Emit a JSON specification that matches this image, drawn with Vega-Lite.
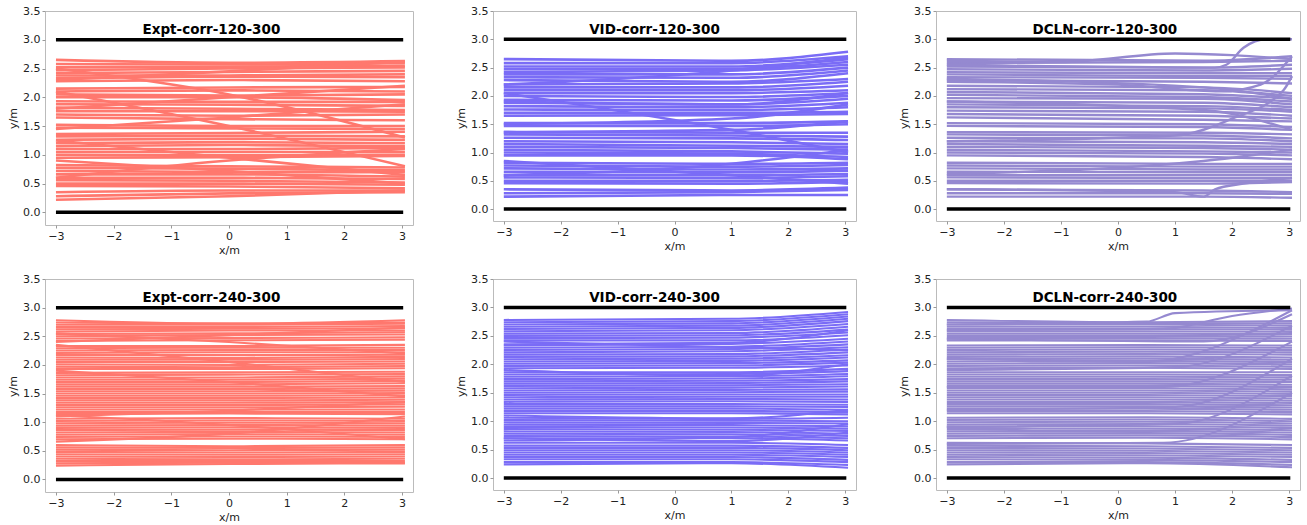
{
"$schema":"https://vega.github.io/schema/vega-lite/v6.json",
"background":"white",
"padding":{"left":6,"top":4,"right":2,"bottom":2},
"config":{
"view":{"stroke":"#bbbbbb","strokeWidth":1},
"axis":{"grid":false,"domain":false,"tickSize":3,"tickColor":"#999999","labelFont":"DejaVu Sans","labelFontSize":11,"labelColor":"#222222","labelPadding":2,"titleFont":"DejaVu Sans","titleFontSize":11,"titleFontWeight":"normal","titleColor":"#222222","titlePadding":3,"labelFlush":false,"labelOverlap":false},
"axisY":{"titleX":-32,"titleBaseline":"middle","titleY":107},
"line":{"interpolate":"monotone","clip":true}
},
"datasets":{
"w":[{"x":-3,"x2":3.02,"y":0},{"x":-3,"x2":3.02,"y":3}],
"e1":[
{"i":1,"x":-3,"y":2.65},{"i":1,"x":0,"y":2.6},{"i":1,"x":3.05,"y":2.63},
{"i":2,"x":-3,"y":2.58},{"i":2,"x":0,"y":2.57},{"i":2,"x":3.05,"y":2.6},
{"i":3,"x":-3,"y":2.52},{"i":3,"x":0,"y":2.53},{"i":3,"x":3.05,"y":2.55},
{"i":4,"x":-3,"y":2.47},{"i":4,"x":0,"y":2.5},{"i":4,"x":3.05,"y":2.52},
{"i":5,"x":-3,"y":2.42},{"i":5,"x":0,"y":2.44},{"i":5,"x":3.05,"y":2.46},
{"i":6,"x":-3,"y":2.38},{"i":6,"x":0,"y":2.38},{"i":6,"x":3.05,"y":2.4},
{"i":7,"x":-3,"y":2.33},{"i":7,"x":0,"y":2.36},{"i":7,"x":3.05,"y":2.35},
{"i":8,"x":-3,"y":2.28},{"i":8,"x":0,"y":2.3},{"i":8,"x":3.05,"y":2.28},
{"i":9,"x":-3,"y":2.5},{"i":9,"x":0,"y":2.05},{"i":9,"x":3.05,"y":1.3},
{"i":10,"x":-3,"y":2.15},{"i":10,"x":0,"y":2.17},{"i":10,"x":3.05,"y":2.18},
{"i":11,"x":-3,"y":2.1},{"i":11,"x":0,"y":2.12},{"i":11,"x":3.05,"y":2.1},
{"i":12,"x":-3,"y":2.05},{"i":12,"x":0,"y":2.03},{"i":12,"x":3.05,"y":2.05},
{"i":13,"x":-3,"y":2.0},{"i":13,"x":0,"y":2.0},{"i":13,"x":3.05,"y":1.95},
{"i":14,"x":-3,"y":1.93},{"i":14,"x":0,"y":1.92},{"i":14,"x":3.05,"y":1.92},
{"i":15,"x":-3,"y":1.88},{"i":15,"x":0,"y":1.87},{"i":15,"x":3.05,"y":1.85},
{"i":16,"x":-3,"y":1.82},{"i":16,"x":0,"y":1.8},{"i":16,"x":3.05,"y":1.78},
{"i":17,"x":-3,"y":1.76},{"i":17,"x":0,"y":1.76},{"i":17,"x":3.05,"y":1.75},
{"i":18,"x":-3,"y":1.7},{"i":18,"x":0,"y":1.68},{"i":18,"x":3.05,"y":1.7},
{"i":19,"x":-3,"y":1.65},{"i":19,"x":0,"y":1.62},{"i":19,"x":3.05,"y":1.6},
{"i":20,"x":-3,"y":2.1},{"i":20,"x":0,"y":1.5},{"i":20,"x":3.05,"y":0.8},
{"i":21,"x":-3,"y":1.52},{"i":21,"x":0,"y":1.5},{"i":21,"x":3.05,"y":1.5},
{"i":22,"x":-3,"y":1.47},{"i":22,"x":0,"y":1.46},{"i":22,"x":3.05,"y":1.45},
{"i":23,"x":-3,"y":1.36},{"i":23,"x":0,"y":1.38},{"i":23,"x":3.05,"y":1.4},
{"i":24,"x":-3,"y":1.32},{"i":24,"x":0,"y":1.33},{"i":24,"x":3.05,"y":1.32},
{"i":25,"x":-3,"y":1.26},{"i":25,"x":0,"y":1.28},{"i":25,"x":3.05,"y":1.26},
{"i":26,"x":-3,"y":1.2},{"i":26,"x":0,"y":1.22},{"i":26,"x":3.05,"y":1.2},
{"i":27,"x":-3,"y":1.15},{"i":27,"x":0,"y":1.17},{"i":27,"x":3.05,"y":1.15},
{"i":28,"x":-3,"y":1.1},{"i":28,"x":0,"y":1.1},{"i":28,"x":3.05,"y":1.12},
{"i":29,"x":-3,"y":1.05},{"i":29,"x":0,"y":1.05},{"i":29,"x":3.05,"y":1.05},
{"i":30,"x":-3,"y":1.0},{"i":30,"x":0,"y":0.99},{"i":30,"x":3.05,"y":1.0},
{"i":31,"x":-3,"y":0.95},{"i":31,"x":0,"y":0.96},{"i":31,"x":3.05,"y":0.98},
{"i":32,"x":-3,"y":1.25},{"i":32,"x":0,"y":0.95},{"i":32,"x":3.05,"y":0.65},
{"i":33,"x":-3,"y":0.82},{"i":33,"x":0,"y":0.8},{"i":33,"x":3.05,"y":0.78},
{"i":34,"x":-3,"y":0.77},{"i":34,"x":0,"y":0.76},{"i":34,"x":3.05,"y":0.73},
{"i":35,"x":-3,"y":0.72},{"i":35,"x":0,"y":0.7},{"i":35,"x":3.05,"y":0.7},
{"i":36,"x":-3,"y":0.66},{"i":36,"x":0,"y":0.66},{"i":36,"x":3.05,"y":0.62},
{"i":37,"x":-3,"y":0.6},{"i":37,"x":0,"y":0.6},{"i":37,"x":3.05,"y":0.58},
{"i":38,"x":-3,"y":0.56},{"i":38,"x":0,"y":0.55},{"i":38,"x":3.05,"y":0.52},
{"i":39,"x":-3,"y":0.5},{"i":39,"x":0,"y":0.5},{"i":39,"x":3.05,"y":0.48},
{"i":40,"x":-3,"y":0.46},{"i":40,"x":0,"y":0.45},{"i":40,"x":3.05,"y":0.42},
{"i":41,"x":-3,"y":0.35},{"i":41,"x":0,"y":0.38},{"i":41,"x":3.05,"y":0.38},
{"i":42,"x":-3,"y":0.28},{"i":42,"x":0,"y":0.33},{"i":42,"x":3.05,"y":0.35},
{"i":43,"x":-3,"y":0.22},{"i":43,"x":0,"y":0.28},{"i":43,"x":3.05,"y":0.38},
{"i":44,"x":-3,"y":1.8},{"i":44,"x":0,"y":2.0},{"i":44,"x":3.05,"y":2.2},
{"i":45,"x":-3,"y":0.6},{"i":45,"x":0,"y":0.9},{"i":45,"x":3.05,"y":1.1},
{"i":46,"x":-3,"y":2.3},{"i":46,"x":0,"y":2.45},{"i":46,"x":3.05,"y":2.62},
{"i":47,"x":-3,"y":1.45},{"i":47,"x":0,"y":1.65},{"i":47,"x":3.05,"y":1.88},
{"i":48,"x":-3,"y":0.9},{"i":48,"x":0,"y":0.72},{"i":48,"x":3.05,"y":0.5}
],
"v1":[
{"i":1,"x":-3,"y":2.65},{"i":1,"x":1,"y":2.62},{"i":1,"x":3.05,"y":2.78},
{"i":2,"x":-3,"y":2.58},{"i":2,"x":1,"y":2.58},{"i":2,"x":3.05,"y":2.7},
{"i":3,"x":-3,"y":2.52},{"i":3,"x":1,"y":2.52},{"i":3,"x":3.05,"y":2.65},
{"i":4,"x":-3,"y":2.47},{"i":4,"x":1,"y":2.48},{"i":4,"x":3.05,"y":2.6},
{"i":5,"x":-3,"y":2.42},{"i":5,"x":1,"y":2.45},{"i":5,"x":3.05,"y":2.55},
{"i":6,"x":-3,"y":2.38},{"i":6,"x":1,"y":2.38},{"i":6,"x":3.05,"y":2.5},
{"i":7,"x":-3,"y":2.33},{"i":7,"x":1,"y":2.32},{"i":7,"x":3.05,"y":2.45},
{"i":8,"x":-3,"y":2.28},{"i":8,"x":1,"y":2.25},{"i":8,"x":3.05,"y":2.4},
{"i":9,"x":-3,"y":2.2},{"i":9,"x":1,"y":2.22},{"i":9,"x":3.05,"y":2.3},
{"i":10,"x":-3,"y":2.15},{"i":10,"x":1,"y":2.15},{"i":10,"x":3.05,"y":2.25},
{"i":11,"x":-3,"y":2.1},{"i":11,"x":1,"y":2.1},{"i":11,"x":3.05,"y":2.18},
{"i":12,"x":-3,"y":2.05},{"i":12,"x":1,"y":2.05},{"i":12,"x":3.05,"y":2.1},
{"i":13,"x":-3,"y":2.0},{"i":13,"x":1,"y":1.98},{"i":13,"x":3.05,"y":2.05},
{"i":14,"x":-3,"y":1.93},{"i":14,"x":1,"y":1.92},{"i":14,"x":3.05,"y":2.0},
{"i":15,"x":-3,"y":1.88},{"i":15,"x":1,"y":1.85},{"i":15,"x":3.05,"y":1.95},
{"i":16,"x":-3,"y":1.82},{"i":16,"x":1,"y":1.8},{"i":16,"x":3.05,"y":1.88},
{"i":17,"x":-3,"y":1.76},{"i":17,"x":1,"y":1.75},{"i":17,"x":3.05,"y":1.8},
{"i":18,"x":-3,"y":1.7},{"i":18,"x":1,"y":1.7},{"i":18,"x":3.05,"y":1.72},
{"i":19,"x":-3,"y":1.65},{"i":19,"x":1,"y":1.66},{"i":19,"x":3.05,"y":1.68},
{"i":20,"x":-3,"y":2.05},{"i":20,"x":1,"y":1.4},{"i":20,"x":3.05,"y":1.0},
{"i":21,"x":-3,"y":1.52},{"i":21,"x":1,"y":1.52},{"i":21,"x":3.05,"y":1.55},
{"i":22,"x":-3,"y":1.47},{"i":22,"x":1,"y":1.47},{"i":22,"x":3.05,"y":1.5},
{"i":23,"x":-3,"y":1.36},{"i":23,"x":1,"y":1.35},{"i":23,"x":3.05,"y":1.35},
{"i":24,"x":-3,"y":1.32},{"i":24,"x":1,"y":1.3},{"i":24,"x":3.05,"y":1.28},
{"i":25,"x":-3,"y":1.26},{"i":25,"x":1,"y":1.25},{"i":25,"x":3.05,"y":1.22},
{"i":26,"x":-3,"y":1.2},{"i":26,"x":1,"y":1.18},{"i":26,"x":3.05,"y":1.15},
{"i":27,"x":-3,"y":1.15},{"i":27,"x":1,"y":1.12},{"i":27,"x":3.05,"y":1.1},
{"i":28,"x":-3,"y":1.1},{"i":28,"x":1,"y":1.08},{"i":28,"x":3.05,"y":1.05},
{"i":29,"x":-3,"y":1.05},{"i":29,"x":1,"y":1.02},{"i":29,"x":3.05,"y":0.98},
{"i":30,"x":-3,"y":1.0},{"i":30,"x":1,"y":0.98},{"i":30,"x":3.05,"y":0.92},
{"i":31,"x":-3,"y":0.95},{"i":31,"x":1,"y":0.95},{"i":31,"x":3.05,"y":0.88},
{"i":32,"x":-3,"y":1.36},{"i":32,"x":1,"y":1.4},{"i":32,"x":3.05,"y":1.55},
{"i":33,"x":-3,"y":0.82},{"i":33,"x":1,"y":0.8},{"i":33,"x":3.05,"y":0.82},
{"i":34,"x":-3,"y":0.77},{"i":34,"x":1,"y":0.75},{"i":34,"x":3.05,"y":0.78},
{"i":35,"x":-3,"y":0.72},{"i":35,"x":1,"y":0.7},{"i":35,"x":3.05,"y":0.72},
{"i":36,"x":-3,"y":0.66},{"i":36,"x":1,"y":0.65},{"i":36,"x":3.05,"y":0.68},
{"i":37,"x":-3,"y":0.6},{"i":37,"x":1,"y":0.6},{"i":37,"x":3.05,"y":0.62},
{"i":38,"x":-3,"y":0.56},{"i":38,"x":1,"y":0.55},{"i":38,"x":3.05,"y":0.58},
{"i":39,"x":-3,"y":0.5},{"i":39,"x":1,"y":0.5},{"i":39,"x":3.05,"y":0.52},
{"i":40,"x":-3,"y":0.46},{"i":40,"x":1,"y":0.45},{"i":40,"x":3.05,"y":0.48},
{"i":41,"x":-3,"y":0.35},{"i":41,"x":1,"y":0.33},{"i":41,"x":3.05,"y":0.38},
{"i":42,"x":-3,"y":0.28},{"i":42,"x":1,"y":0.3},{"i":42,"x":3.05,"y":0.34},
{"i":43,"x":-3,"y":0.22},{"i":43,"x":1,"y":0.25},{"i":43,"x":3.05,"y":0.25},
{"i":44,"x":-3,"y":1.9},{"i":44,"x":1,"y":1.85},{"i":44,"x":3.05,"y":2.05},
{"i":45,"x":-3,"y":0.6},{"i":45,"x":1,"y":0.8},{"i":45,"x":3.05,"y":1.05},
{"i":46,"x":-3,"y":2.2},{"i":46,"x":1,"y":2.45},{"i":46,"x":3.05,"y":2.68},
{"i":47,"x":-3,"y":1.5},{"i":47,"x":1,"y":1.6},{"i":47,"x":3.05,"y":1.85},
{"i":48,"x":-3,"y":0.85},{"i":48,"x":1,"y":0.6},{"i":48,"x":3.05,"y":0.45}
],
"d1":[
{"i":1,"x":-3,"y":2.65},{"i":1,"x":1.5,"y":2.62},{"i":1,"x":3.05,"y":2.7},
{"i":2,"x":-3,"y":2.58},{"i":2,"x":1.5,"y":2.6},{"i":2,"x":3.05,"y":2.62},
{"i":3,"x":-3,"y":2.52},{"i":3,"x":1.5,"y":2.5},{"i":3,"x":3.05,"y":2.55},
{"i":4,"x":-3,"y":2.47},{"i":4,"x":1.5,"y":2.45},{"i":4,"x":3.05,"y":2.48},
{"i":5,"x":-3,"y":2.42},{"i":5,"x":1.5,"y":2.4},{"i":5,"x":3.05,"y":2.4},
{"i":6,"x":-3,"y":2.38},{"i":6,"x":1.5,"y":2.35},{"i":6,"x":3.05,"y":2.35},
{"i":7,"x":-3,"y":2.33},{"i":7,"x":1.5,"y":2.32},{"i":7,"x":3.05,"y":2.3},
{"i":8,"x":-3,"y":2.28},{"i":8,"x":1.5,"y":2.25},{"i":8,"x":3.05,"y":2.22},
{"i":9,"x":-3,"y":2.18},{"i":9,"x":1.5,"y":2.15},{"i":9,"x":3.05,"y":2.05},
{"i":10,"x":-3,"y":2.12},{"i":10,"x":1.5,"y":2.1},{"i":10,"x":3.05,"y":2.0},
{"i":11,"x":-3,"y":2.07},{"i":11,"x":1.5,"y":2.03},{"i":11,"x":3.05,"y":1.95},
{"i":12,"x":-3,"y":2.02},{"i":12,"x":1.5,"y":1.98},{"i":12,"x":3.05,"y":1.9},
{"i":13,"x":-3,"y":1.96},{"i":13,"x":1.5,"y":1.95},{"i":13,"x":3.05,"y":1.85},
{"i":14,"x":-3,"y":1.9},{"i":14,"x":1.5,"y":1.88},{"i":14,"x":3.05,"y":1.8},
{"i":15,"x":-3,"y":1.85},{"i":15,"x":1.5,"y":1.82},{"i":15,"x":3.05,"y":1.75},
{"i":16,"x":-3,"y":1.8},{"i":16,"x":1.5,"y":1.78},{"i":16,"x":3.05,"y":1.72},
{"i":17,"x":-3,"y":1.74},{"i":17,"x":1.5,"y":1.72},{"i":17,"x":3.05,"y":1.65},
{"i":18,"x":-3,"y":1.68},{"i":18,"x":1.5,"y":1.65},{"i":18,"x":3.05,"y":1.6},
{"i":19,"x":-3,"y":1.62},{"i":19,"x":1.5,"y":1.58},{"i":19,"x":3.05,"y":1.55},
{"i":20,"x":-3,"y":1.52},{"i":20,"x":1.5,"y":1.5},{"i":20,"x":3.05,"y":1.45},
{"i":21,"x":-3,"y":1.47},{"i":21,"x":1.5,"y":1.45},{"i":21,"x":3.05,"y":1.4},
{"i":22,"x":-3,"y":1.36},{"i":22,"x":1.5,"y":1.35},{"i":22,"x":3.05,"y":1.32},
{"i":23,"x":-3,"y":1.32},{"i":23,"x":1.5,"y":1.3},{"i":23,"x":3.05,"y":1.25},
{"i":24,"x":-3,"y":1.26},{"i":24,"x":1.5,"y":1.25},{"i":24,"x":3.05,"y":1.2},
{"i":25,"x":-3,"y":1.2},{"i":25,"x":1.5,"y":1.18},{"i":25,"x":3.05,"y":1.15},
{"i":26,"x":-3,"y":1.15},{"i":26,"x":1.5,"y":1.12},{"i":26,"x":3.05,"y":1.1},
{"i":27,"x":-3,"y":1.1},{"i":27,"x":1.5,"y":1.08},{"i":27,"x":3.05,"y":1.05},
{"i":28,"x":-3,"y":1.05},{"i":28,"x":1.5,"y":1.02},{"i":28,"x":3.05,"y":1.0},
{"i":29,"x":-3,"y":1.0},{"i":29,"x":1.5,"y":0.98},{"i":29,"x":3.05,"y":0.95},
{"i":30,"x":-3,"y":0.95},{"i":30,"x":1.5,"y":0.92},{"i":30,"x":3.05,"y":0.88},
{"i":31,"x":-3,"y":0.82},{"i":31,"x":1.5,"y":0.8},{"i":31,"x":3.05,"y":0.8},
{"i":32,"x":-3,"y":0.77},{"i":32,"x":1.5,"y":0.75},{"i":32,"x":3.05,"y":0.75},
{"i":33,"x":-3,"y":0.72},{"i":33,"x":1.5,"y":0.7},{"i":33,"x":3.05,"y":0.7},
{"i":34,"x":-3,"y":0.66},{"i":34,"x":1.5,"y":0.65},{"i":34,"x":3.05,"y":0.65},
{"i":35,"x":-3,"y":0.6},{"i":35,"x":1.5,"y":0.6},{"i":35,"x":3.05,"y":0.6},
{"i":36,"x":-3,"y":0.56},{"i":36,"x":1.5,"y":0.55},{"i":36,"x":3.05,"y":0.55},
{"i":37,"x":-3,"y":0.5},{"i":37,"x":1.5,"y":0.5},{"i":37,"x":3.05,"y":0.5},
{"i":38,"x":-3,"y":0.46},{"i":38,"x":1.5,"y":0.45},{"i":38,"x":3.05,"y":0.48},
{"i":39,"x":-3,"y":0.35},{"i":39,"x":1.5,"y":0.33},{"i":39,"x":3.05,"y":0.3},
{"i":40,"x":-3,"y":0.28},{"i":40,"x":1.5,"y":0.28},{"i":40,"x":3.05,"y":0.27},
{"i":41,"x":-3,"y":0.22},{"i":41,"x":1.5,"y":0.22},{"i":41,"x":3.05,"y":0.2},
{"i":42,"x":-3,"y":1.9},{"i":42,"x":1.5,"y":1.75},{"i":42,"x":3.05,"y":1.4},
{"i":43,"x":-3,"y":0.62},{"i":43,"x":1.5,"y":0.85},{"i":43,"x":3.05,"y":1.05},
{"i":44,"x":-3,"y":2.3},{"i":44,"x":1.5,"y":2.15},{"i":44,"x":3.05,"y":1.95},
{"i":45,"x":-3,"y":2.55},{"i":45,"x":1.7,"y":2.5},{"i":45,"x":1.9,"y":2.55},{"i":45,"x":2.2,"y":2.85},{"i":45,"x":2.6,"y":3.0},{"i":45,"x":3.05,"y":3.0},
{"i":46,"x":-3,"y":2.25},{"i":46,"x":0,"y":2.2},{"i":46,"x":1.8,"y":2.08},{"i":46,"x":2.5,"y":2.2},{"i":46,"x":3.05,"y":2.7},
{"i":47,"x":-3,"y":0.35},{"i":47,"x":1,"y":0.3},{"i":47,"x":1.5,"y":0.22},{"i":47,"x":1.7,"y":0.35},{"i":47,"x":2.2,"y":0.45},{"i":47,"x":3.05,"y":0.55},
{"i":48,"x":-3,"y":1.2},{"i":48,"x":1,"y":1.3},{"i":48,"x":2,"y":1.6},{"i":48,"x":2.9,"y":2.1},{"i":48,"x":3.05,"y":2.35},
{"i":49,"x":-3,"y":2.62},{"i":49,"x":-1,"y":2.6},{"i":49,"x":1,"y":2.75},{"i":49,"x":2,"y":2.72},{"i":49,"x":3.05,"y":2.65}
],
"e2":[
{"i":1,"x":-3,"y":2.78},{"i":1,"x":0,"y":2.72},{"i":1,"x":3.05,"y":2.78},
{"i":2,"x":-3,"y":2.74},{"i":2,"x":0,"y":2.72},{"i":2,"x":3.05,"y":2.74},
{"i":3,"x":-3,"y":2.7},{"i":3,"x":0,"y":2.7},{"i":3,"x":3.05,"y":2.72},
{"i":4,"x":-3,"y":2.66},{"i":4,"x":0,"y":2.66},{"i":4,"x":3.05,"y":2.68},
{"i":5,"x":-3,"y":2.62},{"i":5,"x":0,"y":2.63},{"i":5,"x":3.05,"y":2.64},
{"i":6,"x":-3,"y":2.58},{"i":6,"x":0,"y":2.6},{"i":6,"x":3.05,"y":2.6},
{"i":7,"x":-3,"y":2.54},{"i":7,"x":0,"y":2.55},{"i":7,"x":3.05,"y":2.57},
{"i":8,"x":-3,"y":2.5},{"i":8,"x":0,"y":2.52},{"i":8,"x":3.05,"y":2.53},
{"i":9,"x":-3,"y":2.46},{"i":9,"x":0,"y":2.47},{"i":9,"x":3.05,"y":2.48},
{"i":10,"x":-3,"y":2.42},{"i":10,"x":0,"y":2.43},{"i":10,"x":3.05,"y":2.44},
{"i":11,"x":-3,"y":2.33},{"i":11,"x":0,"y":2.33},{"i":11,"x":3.05,"y":2.35},
{"i":12,"x":-3,"y":2.29},{"i":12,"x":0,"y":2.3},{"i":12,"x":3.05,"y":2.3},
{"i":13,"x":-3,"y":2.25},{"i":13,"x":0,"y":2.26},{"i":13,"x":3.05,"y":2.26},
{"i":14,"x":-3,"y":2.21},{"i":14,"x":0,"y":2.22},{"i":14,"x":3.05,"y":2.22},
{"i":15,"x":-3,"y":2.17},{"i":15,"x":0,"y":2.17},{"i":15,"x":3.05,"y":2.18},
{"i":16,"x":-3,"y":2.13},{"i":16,"x":0,"y":2.12},{"i":16,"x":3.05,"y":2.14},
{"i":17,"x":-3,"y":2.09},{"i":17,"x":0,"y":2.09},{"i":17,"x":3.05,"y":2.1},
{"i":18,"x":-3,"y":2.05},{"i":18,"x":0,"y":2.05},{"i":18,"x":3.05,"y":2.06},
{"i":19,"x":-3,"y":2.01},{"i":19,"x":0,"y":2.0},{"i":19,"x":3.05,"y":2.02},
{"i":20,"x":-3,"y":1.97},{"i":20,"x":0,"y":1.96},{"i":20,"x":3.05,"y":1.98},
{"i":21,"x":-3,"y":1.93},{"i":21,"x":0,"y":1.93},{"i":21,"x":3.05,"y":1.94},
{"i":22,"x":-3,"y":1.86},{"i":22,"x":0,"y":1.87},{"i":22,"x":3.05,"y":1.88},
{"i":23,"x":-3,"y":1.82},{"i":23,"x":0,"y":1.83},{"i":23,"x":3.05,"y":1.84},
{"i":24,"x":-3,"y":1.78},{"i":24,"x":0,"y":1.78},{"i":24,"x":3.05,"y":1.8},
{"i":25,"x":-3,"y":1.74},{"i":25,"x":0,"y":1.74},{"i":25,"x":3.05,"y":1.76},
{"i":26,"x":-3,"y":1.7},{"i":26,"x":0,"y":1.7},{"i":26,"x":3.05,"y":1.72},
{"i":27,"x":-3,"y":1.66},{"i":27,"x":0,"y":1.66},{"i":27,"x":3.05,"y":1.68},
{"i":28,"x":-3,"y":1.62},{"i":28,"x":0,"y":1.62},{"i":28,"x":3.05,"y":1.63},
{"i":29,"x":-3,"y":1.58},{"i":29,"x":0,"y":1.58},{"i":29,"x":3.05,"y":1.59},
{"i":30,"x":-3,"y":1.54},{"i":30,"x":0,"y":1.54},{"i":30,"x":3.05,"y":1.55},
{"i":31,"x":-3,"y":1.5},{"i":31,"x":0,"y":1.5},{"i":31,"x":3.05,"y":1.51},
{"i":32,"x":-3,"y":1.46},{"i":32,"x":0,"y":1.46},{"i":32,"x":3.05,"y":1.47},
{"i":33,"x":-3,"y":1.42},{"i":33,"x":0,"y":1.42},{"i":33,"x":3.05,"y":1.43},
{"i":34,"x":-3,"y":1.38},{"i":34,"x":0,"y":1.38},{"i":34,"x":3.05,"y":1.39},
{"i":35,"x":-3,"y":1.34},{"i":35,"x":0,"y":1.34},{"i":35,"x":3.05,"y":1.35},
{"i":36,"x":-3,"y":1.3},{"i":36,"x":0,"y":1.3},{"i":36,"x":3.05,"y":1.31},
{"i":37,"x":-3,"y":1.26},{"i":37,"x":0,"y":1.26},{"i":37,"x":3.05,"y":1.27},
{"i":38,"x":-3,"y":1.22},{"i":38,"x":0,"y":1.22},{"i":38,"x":3.05,"y":1.22},
{"i":39,"x":-3,"y":1.18},{"i":39,"x":0,"y":1.18},{"i":39,"x":3.05,"y":1.18},
{"i":40,"x":-3,"y":1.14},{"i":40,"x":0,"y":1.15},{"i":40,"x":3.05,"y":1.14},
{"i":41,"x":-3,"y":1.06},{"i":41,"x":0,"y":1.07},{"i":41,"x":3.05,"y":1.06},
{"i":42,"x":-3,"y":1.02},{"i":42,"x":0,"y":1.03},{"i":42,"x":3.05,"y":1.02},
{"i":43,"x":-3,"y":0.98},{"i":43,"x":0,"y":0.99},{"i":43,"x":3.05,"y":0.98},
{"i":44,"x":-3,"y":0.94},{"i":44,"x":0,"y":0.95},{"i":44,"x":3.05,"y":0.94},
{"i":45,"x":-3,"y":0.9},{"i":45,"x":0,"y":0.91},{"i":45,"x":3.05,"y":0.9},
{"i":46,"x":-3,"y":0.86},{"i":46,"x":0,"y":0.87},{"i":46,"x":3.05,"y":0.86},
{"i":47,"x":-3,"y":0.82},{"i":47,"x":0,"y":0.83},{"i":47,"x":3.05,"y":0.82},
{"i":48,"x":-3,"y":0.78},{"i":48,"x":0,"y":0.79},{"i":48,"x":3.05,"y":0.78},
{"i":49,"x":-3,"y":0.74},{"i":49,"x":0,"y":0.75},{"i":49,"x":3.05,"y":0.74},
{"i":50,"x":-3,"y":0.7},{"i":50,"x":0,"y":0.71},{"i":50,"x":3.05,"y":0.7},
{"i":51,"x":-3,"y":0.6},{"i":51,"x":0,"y":0.58},{"i":51,"x":3.05,"y":0.6},
{"i":52,"x":-3,"y":0.56},{"i":52,"x":0,"y":0.55},{"i":52,"x":3.05,"y":0.56},
{"i":53,"x":-3,"y":0.52},{"i":53,"x":0,"y":0.51},{"i":53,"x":3.05,"y":0.52},
{"i":54,"x":-3,"y":0.48},{"i":54,"x":0,"y":0.47},{"i":54,"x":3.05,"y":0.48},
{"i":55,"x":-3,"y":0.44},{"i":55,"x":0,"y":0.43},{"i":55,"x":3.05,"y":0.44},
{"i":56,"x":-3,"y":0.4},{"i":56,"x":0,"y":0.39},{"i":56,"x":3.05,"y":0.4},
{"i":57,"x":-3,"y":0.36},{"i":57,"x":0,"y":0.35},{"i":57,"x":3.05,"y":0.36},
{"i":58,"x":-3,"y":0.32},{"i":58,"x":0,"y":0.32},{"i":58,"x":3.05,"y":0.32},
{"i":59,"x":-3,"y":0.28},{"i":59,"x":0,"y":0.29},{"i":59,"x":3.05,"y":0.29},
{"i":60,"x":-3,"y":0.24},{"i":60,"x":0,"y":0.27},{"i":60,"x":3.05,"y":0.28},
{"i":61,"x":-3,"y":2.55},{"i":61,"x":0,"y":2.4},{"i":61,"x":3.05,"y":2.2},
{"i":62,"x":-3,"y":2.35},{"i":62,"x":0,"y":2.05},{"i":62,"x":3.05,"y":1.7},
{"i":63,"x":-3,"y":1.12},{"i":63,"x":0,"y":0.95},{"i":63,"x":3.05,"y":0.7},
{"i":64,"x":-3,"y":0.66},{"i":64,"x":0,"y":0.8},{"i":64,"x":3.05,"y":1.1},
{"i":65,"x":-3,"y":1.9},{"i":65,"x":0,"y":1.7},{"i":65,"x":3.05,"y":1.45},
{"i":66,"x":-3,"y":2.4},{"i":66,"x":0,"y":2.52},{"i":66,"x":3.05,"y":2.65},
{"i":67,"x":-3,"y":1.1},{"i":67,"x":0,"y":1.2},{"i":67,"x":3.05,"y":1.35}
],
"v2":[
{"i":1,"x":-3,"y":2.78},{"i":1,"x":1,"y":2.8},{"i":1,"x":3.05,"y":2.92},
{"i":2,"x":-3,"y":2.74},{"i":2,"x":1,"y":2.76},{"i":2,"x":3.05,"y":2.88},
{"i":3,"x":-3,"y":2.7},{"i":3,"x":1,"y":2.72},{"i":3,"x":3.05,"y":2.84},
{"i":4,"x":-3,"y":2.66},{"i":4,"x":1,"y":2.68},{"i":4,"x":3.05,"y":2.8},
{"i":5,"x":-3,"y":2.62},{"i":5,"x":1,"y":2.64},{"i":5,"x":3.05,"y":2.76},
{"i":6,"x":-3,"y":2.58},{"i":6,"x":1,"y":2.6},{"i":6,"x":3.05,"y":2.71},
{"i":7,"x":-3,"y":2.54},{"i":7,"x":1,"y":2.55},{"i":7,"x":3.05,"y":2.66},
{"i":8,"x":-3,"y":2.5},{"i":8,"x":1,"y":2.51},{"i":8,"x":3.05,"y":2.61},
{"i":9,"x":-3,"y":2.46},{"i":9,"x":1,"y":2.47},{"i":9,"x":3.05,"y":2.56},
{"i":10,"x":-3,"y":2.42},{"i":10,"x":1,"y":2.42},{"i":10,"x":3.05,"y":2.51},
{"i":11,"x":-3,"y":2.33},{"i":11,"x":1,"y":2.36},{"i":11,"x":3.05,"y":2.45},
{"i":12,"x":-3,"y":2.29},{"i":12,"x":1,"y":2.31},{"i":12,"x":3.05,"y":2.4},
{"i":13,"x":-3,"y":2.25},{"i":13,"x":1,"y":2.27},{"i":13,"x":3.05,"y":2.35},
{"i":14,"x":-3,"y":2.21},{"i":14,"x":1,"y":2.23},{"i":14,"x":3.05,"y":2.3},
{"i":15,"x":-3,"y":2.17},{"i":15,"x":1,"y":2.18},{"i":15,"x":3.05,"y":2.26},
{"i":16,"x":-3,"y":2.13},{"i":16,"x":1,"y":2.14},{"i":16,"x":3.05,"y":2.21},
{"i":17,"x":-3,"y":2.09},{"i":17,"x":1,"y":2.1},{"i":17,"x":3.05,"y":2.16},
{"i":18,"x":-3,"y":2.05},{"i":18,"x":1,"y":2.06},{"i":18,"x":3.05,"y":2.12},
{"i":19,"x":-3,"y":2.01},{"i":19,"x":1,"y":2.02},{"i":19,"x":3.05,"y":2.07},
{"i":20,"x":-3,"y":1.97},{"i":20,"x":1,"y":1.98},{"i":20,"x":3.05,"y":2.03},
{"i":21,"x":-3,"y":1.93},{"i":21,"x":1,"y":1.94},{"i":21,"x":3.05,"y":1.98},
{"i":22,"x":-3,"y":1.86},{"i":22,"x":1,"y":1.86},{"i":22,"x":3.05,"y":1.92},
{"i":23,"x":-3,"y":1.82},{"i":23,"x":1,"y":1.83},{"i":23,"x":3.05,"y":1.88},
{"i":24,"x":-3,"y":1.78},{"i":24,"x":1,"y":1.79},{"i":24,"x":3.05,"y":1.83},
{"i":25,"x":-3,"y":1.74},{"i":25,"x":1,"y":1.75},{"i":25,"x":3.05,"y":1.79},
{"i":26,"x":-3,"y":1.7},{"i":26,"x":1,"y":1.71},{"i":26,"x":3.05,"y":1.74},
{"i":27,"x":-3,"y":1.66},{"i":27,"x":1,"y":1.67},{"i":27,"x":3.05,"y":1.7},
{"i":28,"x":-3,"y":1.62},{"i":28,"x":1,"y":1.63},{"i":28,"x":3.05,"y":1.65},
{"i":29,"x":-3,"y":1.58},{"i":29,"x":1,"y":1.59},{"i":29,"x":3.05,"y":1.61},
{"i":30,"x":-3,"y":1.54},{"i":30,"x":1,"y":1.55},{"i":30,"x":3.05,"y":1.56},
{"i":31,"x":-3,"y":1.5},{"i":31,"x":1,"y":1.51},{"i":31,"x":3.05,"y":1.52},
{"i":32,"x":-3,"y":1.46},{"i":32,"x":1,"y":1.47},{"i":32,"x":3.05,"y":1.47},
{"i":33,"x":-3,"y":1.42},{"i":33,"x":1,"y":1.43},{"i":33,"x":3.05,"y":1.43},
{"i":34,"x":-3,"y":1.38},{"i":34,"x":1,"y":1.39},{"i":34,"x":3.05,"y":1.38},
{"i":35,"x":-3,"y":1.34},{"i":35,"x":1,"y":1.35},{"i":35,"x":3.05,"y":1.34},
{"i":36,"x":-3,"y":1.3},{"i":36,"x":1,"y":1.3},{"i":36,"x":3.05,"y":1.29},
{"i":37,"x":-3,"y":1.26},{"i":37,"x":1,"y":1.26},{"i":37,"x":3.05,"y":1.25},
{"i":38,"x":-3,"y":1.22},{"i":38,"x":1,"y":1.22},{"i":38,"x":3.05,"y":1.2},
{"i":39,"x":-3,"y":1.18},{"i":39,"x":1,"y":1.18},{"i":39,"x":3.05,"y":1.16},
{"i":40,"x":-3,"y":1.14},{"i":40,"x":1,"y":1.14},{"i":40,"x":3.05,"y":1.12},
{"i":41,"x":-3,"y":1.06},{"i":41,"x":1,"y":1.04},{"i":41,"x":3.05,"y":1.06},
{"i":42,"x":-3,"y":1.02},{"i":42,"x":1,"y":1.01},{"i":42,"x":3.05,"y":1.0},
{"i":43,"x":-3,"y":0.98},{"i":43,"x":1,"y":0.97},{"i":43,"x":3.05,"y":0.96},
{"i":44,"x":-3,"y":0.94},{"i":44,"x":1,"y":0.93},{"i":44,"x":3.05,"y":0.91},
{"i":45,"x":-3,"y":0.9},{"i":45,"x":1,"y":0.89},{"i":45,"x":3.05,"y":0.87},
{"i":46,"x":-3,"y":0.86},{"i":46,"x":1,"y":0.85},{"i":46,"x":3.05,"y":0.83},
{"i":47,"x":-3,"y":0.82},{"i":47,"x":1,"y":0.81},{"i":47,"x":3.05,"y":0.78},
{"i":48,"x":-3,"y":0.78},{"i":48,"x":1,"y":0.77},{"i":48,"x":3.05,"y":0.74},
{"i":49,"x":-3,"y":0.74},{"i":49,"x":1,"y":0.73},{"i":49,"x":3.05,"y":0.7},
{"i":50,"x":-3,"y":0.7},{"i":50,"x":1,"y":0.7},{"i":50,"x":3.05,"y":0.66},
{"i":51,"x":-3,"y":0.62},{"i":51,"x":1,"y":0.62},{"i":51,"x":3.05,"y":0.58},
{"i":52,"x":-3,"y":0.57},{"i":52,"x":1,"y":0.57},{"i":52,"x":3.05,"y":0.53},
{"i":53,"x":-3,"y":0.53},{"i":53,"x":1,"y":0.53},{"i":53,"x":3.05,"y":0.49},
{"i":54,"x":-3,"y":0.49},{"i":54,"x":1,"y":0.49},{"i":54,"x":3.05,"y":0.45},
{"i":55,"x":-3,"y":0.45},{"i":55,"x":1,"y":0.45},{"i":55,"x":3.05,"y":0.41},
{"i":56,"x":-3,"y":0.41},{"i":56,"x":1,"y":0.41},{"i":56,"x":3.05,"y":0.37},
{"i":57,"x":-3,"y":0.37},{"i":57,"x":1,"y":0.37},{"i":57,"x":3.05,"y":0.32},
{"i":58,"x":-3,"y":0.33},{"i":58,"x":1,"y":0.33},{"i":58,"x":3.05,"y":0.28},
{"i":59,"x":-3,"y":0.28},{"i":59,"x":1,"y":0.28},{"i":59,"x":3.05,"y":0.23},
{"i":60,"x":-3,"y":0.24},{"i":60,"x":1,"y":0.26},{"i":60,"x":3.05,"y":0.18},
{"i":61,"x":-3,"y":2.35},{"i":61,"x":1,"y":2.38},{"i":61,"x":3.05,"y":2.6},
{"i":62,"x":-3,"y":0.7},{"i":62,"x":1,"y":0.65},{"i":62,"x":3.05,"y":0.8},
{"i":63,"x":-3,"y":1.1},{"i":63,"x":1,"y":1.05},{"i":63,"x":3.05,"y":1.2},
{"i":64,"x":-3,"y":1.9},{"i":64,"x":1,"y":1.8},{"i":64,"x":3.05,"y":2.0},
{"i":65,"x":-3,"y":2.4},{"i":65,"x":1,"y":2.3},{"i":65,"x":3.05,"y":2.25},
{"i":66,"x":-3,"y":0.66},{"i":66,"x":1,"y":0.72},{"i":66,"x":3.05,"y":0.95}
],
"d2":[
{"i":1,"x":-3,"y":2.78},{"i":1,"x":0.5,"y":2.74},{"i":1,"x":3.05,"y":2.76},
{"i":2,"x":-3,"y":2.74},{"i":2,"x":0.5,"y":2.72},{"i":2,"x":3.05,"y":2.72},
{"i":3,"x":-3,"y":2.7},{"i":3,"x":0.5,"y":2.7},{"i":3,"x":3.05,"y":2.68},
{"i":4,"x":-3,"y":2.66},{"i":4,"x":0.5,"y":2.66},{"i":4,"x":3.05,"y":2.64},
{"i":5,"x":-3,"y":2.62},{"i":5,"x":0.5,"y":2.62},{"i":5,"x":3.05,"y":2.61},
{"i":6,"x":-3,"y":2.58},{"i":6,"x":0.5,"y":2.58},{"i":6,"x":3.05,"y":2.57},
{"i":7,"x":-3,"y":2.54},{"i":7,"x":0.5,"y":2.54},{"i":7,"x":3.05,"y":2.53},
{"i":8,"x":-3,"y":2.5},{"i":8,"x":0.5,"y":2.5},{"i":8,"x":3.05,"y":2.49},
{"i":9,"x":-3,"y":2.46},{"i":9,"x":0.5,"y":2.46},{"i":9,"x":3.05,"y":2.45},
{"i":10,"x":-3,"y":2.42},{"i":10,"x":0.5,"y":2.42},{"i":10,"x":3.05,"y":2.41},
{"i":11,"x":-3,"y":2.33},{"i":11,"x":0.5,"y":2.34},{"i":11,"x":3.05,"y":2.33},
{"i":12,"x":-3,"y":2.29},{"i":12,"x":0.5,"y":2.3},{"i":12,"x":3.05,"y":2.29},
{"i":13,"x":-3,"y":2.25},{"i":13,"x":0.5,"y":2.26},{"i":13,"x":3.05,"y":2.25},
{"i":14,"x":-3,"y":2.21},{"i":14,"x":0.5,"y":2.22},{"i":14,"x":3.05,"y":2.21},
{"i":15,"x":-3,"y":2.17},{"i":15,"x":0.5,"y":2.18},{"i":15,"x":3.05,"y":2.17},
{"i":16,"x":-3,"y":2.13},{"i":16,"x":0.5,"y":2.14},{"i":16,"x":3.05,"y":2.12},
{"i":17,"x":-3,"y":2.09},{"i":17,"x":0.5,"y":2.1},{"i":17,"x":3.05,"y":2.08},
{"i":18,"x":-3,"y":2.05},{"i":18,"x":0.5,"y":2.06},{"i":18,"x":3.05,"y":2.04},
{"i":19,"x":-3,"y":2.01},{"i":19,"x":0.5,"y":2.02},{"i":19,"x":3.05,"y":2.0},
{"i":20,"x":-3,"y":1.97},{"i":20,"x":0.5,"y":1.98},{"i":20,"x":3.05,"y":1.96},
{"i":21,"x":-3,"y":1.93},{"i":21,"x":0.5,"y":1.94},{"i":21,"x":3.05,"y":1.92},
{"i":22,"x":-3,"y":1.86},{"i":22,"x":0.5,"y":1.86},{"i":22,"x":3.05,"y":1.86},
{"i":23,"x":-3,"y":1.82},{"i":23,"x":0.5,"y":1.82},{"i":23,"x":3.05,"y":1.81},
{"i":24,"x":-3,"y":1.78},{"i":24,"x":0.5,"y":1.78},{"i":24,"x":3.05,"y":1.77},
{"i":25,"x":-3,"y":1.74},{"i":25,"x":0.5,"y":1.74},{"i":25,"x":3.05,"y":1.73},
{"i":26,"x":-3,"y":1.7},{"i":26,"x":0.5,"y":1.7},{"i":26,"x":3.05,"y":1.69},
{"i":27,"x":-3,"y":1.66},{"i":27,"x":0.5,"y":1.66},{"i":27,"x":3.05,"y":1.64},
{"i":28,"x":-3,"y":1.62},{"i":28,"x":0.5,"y":1.62},{"i":28,"x":3.05,"y":1.6},
{"i":29,"x":-3,"y":1.58},{"i":29,"x":0.5,"y":1.58},{"i":29,"x":3.05,"y":1.56},
{"i":30,"x":-3,"y":1.54},{"i":30,"x":0.5,"y":1.54},{"i":30,"x":3.05,"y":1.52},
{"i":31,"x":-3,"y":1.5},{"i":31,"x":0.5,"y":1.5},{"i":31,"x":3.05,"y":1.48},
{"i":32,"x":-3,"y":1.46},{"i":32,"x":0.5,"y":1.46},{"i":32,"x":3.05,"y":1.44},
{"i":33,"x":-3,"y":1.42},{"i":33,"x":0.5,"y":1.42},{"i":33,"x":3.05,"y":1.4},
{"i":34,"x":-3,"y":1.38},{"i":34,"x":0.5,"y":1.38},{"i":34,"x":3.05,"y":1.36},
{"i":35,"x":-3,"y":1.34},{"i":35,"x":0.5,"y":1.34},{"i":35,"x":3.05,"y":1.32},
{"i":36,"x":-3,"y":1.3},{"i":36,"x":0.5,"y":1.3},{"i":36,"x":3.05,"y":1.28},
{"i":37,"x":-3,"y":1.26},{"i":37,"x":0.5,"y":1.26},{"i":37,"x":3.05,"y":1.24},
{"i":38,"x":-3,"y":1.22},{"i":38,"x":0.5,"y":1.22},{"i":38,"x":3.05,"y":1.2},
{"i":39,"x":-3,"y":1.18},{"i":39,"x":0.5,"y":1.18},{"i":39,"x":3.05,"y":1.16},
{"i":40,"x":-3,"y":1.14},{"i":40,"x":0.5,"y":1.14},{"i":40,"x":3.05,"y":1.12},
{"i":41,"x":-3,"y":1.06},{"i":41,"x":0.5,"y":1.07},{"i":41,"x":3.05,"y":1.04},
{"i":42,"x":-3,"y":1.02},{"i":42,"x":0.5,"y":1.03},{"i":42,"x":3.05,"y":1.0},
{"i":43,"x":-3,"y":0.98},{"i":43,"x":0.5,"y":0.99},{"i":43,"x":3.05,"y":0.96},
{"i":44,"x":-3,"y":0.94},{"i":44,"x":0.5,"y":0.95},{"i":44,"x":3.05,"y":0.92},
{"i":45,"x":-3,"y":0.9},{"i":45,"x":0.5,"y":0.91},{"i":45,"x":3.05,"y":0.88},
{"i":46,"x":-3,"y":0.86},{"i":46,"x":0.5,"y":0.87},{"i":46,"x":3.05,"y":0.84},
{"i":47,"x":-3,"y":0.82},{"i":47,"x":0.5,"y":0.83},{"i":47,"x":3.05,"y":0.8},
{"i":48,"x":-3,"y":0.78},{"i":48,"x":0.5,"y":0.79},{"i":48,"x":3.05,"y":0.76},
{"i":49,"x":-3,"y":0.74},{"i":49,"x":0.5,"y":0.75},{"i":49,"x":3.05,"y":0.72},
{"i":50,"x":-3,"y":0.7},{"i":50,"x":0.5,"y":0.71},{"i":50,"x":3.05,"y":0.68},
{"i":51,"x":-3,"y":0.62},{"i":51,"x":0.5,"y":0.61},{"i":51,"x":3.05,"y":0.58},
{"i":52,"x":-3,"y":0.57},{"i":52,"x":0.5,"y":0.56},{"i":52,"x":3.05,"y":0.53},
{"i":53,"x":-3,"y":0.53},{"i":53,"x":0.5,"y":0.52},{"i":53,"x":3.05,"y":0.49},
{"i":54,"x":-3,"y":0.49},{"i":54,"x":0.5,"y":0.48},{"i":54,"x":3.05,"y":0.45},
{"i":55,"x":-3,"y":0.45},{"i":55,"x":0.5,"y":0.44},{"i":55,"x":3.05,"y":0.41},
{"i":56,"x":-3,"y":0.41},{"i":56,"x":0.5,"y":0.4},{"i":56,"x":3.05,"y":0.37},
{"i":57,"x":-3,"y":0.37},{"i":57,"x":0.5,"y":0.36},{"i":57,"x":3.05,"y":0.32},
{"i":58,"x":-3,"y":0.33},{"i":58,"x":0.5,"y":0.32},{"i":58,"x":3.05,"y":0.28},
{"i":59,"x":-3,"y":0.28},{"i":59,"x":0.5,"y":0.28},{"i":59,"x":3.05,"y":0.23},
{"i":60,"x":-3,"y":0.24},{"i":60,"x":0.5,"y":0.26},{"i":60,"x":3.05,"y":0.19},
{"i":61,"x":-3,"y":2.7},{"i":61,"x":0.5,"y":2.75},{"i":61,"x":1,"y":2.9},{"i":61,"x":3.05,"y":2.95},
{"i":62,"x":-3,"y":2.6},{"i":62,"x":0.8,"y":2.62},{"i":62,"x":2,"y":2.85},{"i":62,"x":3.05,"y":2.98},
{"i":63,"x":-3,"y":2.1},{"i":63,"x":0.5,"y":2.05},{"i":63,"x":3.05,"y":2.95},
{"i":64,"x":-3,"y":1.6},{"i":64,"x":0.8,"y":1.6},{"i":64,"x":3.05,"y":2.4},
{"i":65,"x":-3,"y":0.6},{"i":65,"x":0.8,"y":0.62},{"i":65,"x":3.05,"y":1.5},
{"i":66,"x":-3,"y":1.2},{"i":66,"x":1,"y":1.25},{"i":66,"x":3.05,"y":2.1},
{"i":67,"x":-3,"y":0.9},{"i":67,"x":1,"y":0.95},{"i":67,"x":3.05,"y":1.8},
{"i":68,"x":-3,"y":2.45},{"i":68,"x":1.5,"y":2.4},{"i":68,"x":3.05,"y":2.88},
{"i":69,"x":-3,"y":1.9},{"i":69,"x":1,"y":1.95},{"i":69,"x":3.05,"y":2.68}
]
},
"columns":3,
"spacing":{"row":54,"column":80},
"bounds":"flush",
"align":"each",
"concat":[
{"width":368,"height":214,
"encoding":{"x":{"field":"x","type":"quantitative","scale":{"domain":[-3.19,3.19],"nice":false,"zero":false},"axis":{"title":"x/m","values":[-3,-2,-1,0,1,2,3],"format":"d"}},"y":{"field":"y","type":"quantitative","scale":{"domain":[-0.22,3.5],"nice":false,"zero":false},"axis":{"title":"y/m","values":[0,0.5,1,1.5,2,2.5,3,3.5],"format":".1f"}}},
"layer":[
{"data":{"name":"e1"},"mark":{"type":"line","color":"#ff786e","strokeWidth":2.6},"encoding":{"detail":{"field":"i"}}},
{"data":{"name":"w"},"mark":{"type":"rule","color":"black","strokeWidth":3.5},"encoding":{"x2":{"field":"x2"}}},
{"data":{"values":[{"x":-1.5,"y":3.1,"t":"Expt-corr-120-300"}]},"mark":{"type":"text","align":"left","baseline":"alphabetic","font":"DejaVu Sans","fontWeight":"bold","fontSize":13.5,"color":"black"},"encoding":{"text":{"field":"t"}}}
]},
{"width":363,"height":210,
"encoding":{"x":{"field":"x","type":"quantitative","scale":{"domain":[-3.19,3.19],"nice":false,"zero":false},"axis":{"title":"x/m","values":[-3,-2,-1,0,1,2,3],"format":"d"}},"y":{"field":"y","type":"quantitative","scale":{"domain":[-0.21,3.5],"nice":false,"zero":false},"axis":{"title":"y/m","values":[0,0.5,1,1.5,2,2.5,3,3.5],"format":".1f"}}},
"layer":[
{"data":{"name":"v1"},"mark":{"type":"line","color":"#7a6cf6","strokeWidth":2.6},"encoding":{"detail":{"field":"i"}}},
{"data":{"name":"w"},"mark":{"type":"rule","color":"black","strokeWidth":3.5},"encoding":{"x2":{"field":"x2"}}},
{"data":{"values":[{"x":-1.5,"y":3.1,"t":"VID-corr-120-300"}]},"mark":{"type":"text","align":"left","baseline":"alphabetic","font":"DejaVu Sans","fontWeight":"bold","fontSize":13.5,"color":"black"},"encoding":{"text":{"field":"t"}}}
]},
{"width":364,"height":210,
"encoding":{"x":{"field":"x","type":"quantitative","scale":{"domain":[-3.19,3.19],"nice":false,"zero":false},"axis":{"title":"x/m","values":[-3,-2,-1,0,1,2,3],"format":"d"}},"y":{"field":"y","type":"quantitative","scale":{"domain":[-0.21,3.5],"nice":false,"zero":false},"axis":{"title":"y/m","values":[0,0.5,1,1.5,2,2.5,3,3.5],"format":".1f"}}},
"layer":[
{"data":{"name":"d1"},"mark":{"type":"line","color":"#9589d0","strokeWidth":2.4},"encoding":{"detail":{"field":"i"}}},
{"data":{"name":"w"},"mark":{"type":"rule","color":"black","strokeWidth":3.5},"encoding":{"x2":{"field":"x2"}}},
{"data":{"values":[{"x":-1.5,"y":3.1,"t":"DCLN-corr-120-300"}]},"mark":{"type":"text","align":"left","baseline":"alphabetic","font":"DejaVu Sans","fontWeight":"bold","fontSize":13.5,"color":"black"},"encoding":{"text":{"field":"t"}}}
]},
{"width":368,"height":213,
"encoding":{"x":{"field":"x","type":"quantitative","scale":{"domain":[-3.19,3.19],"nice":false,"zero":false},"axis":{"title":"x/m","values":[-3,-2,-1,0,1,2,3],"format":"d"}},"y":{"field":"y","type":"quantitative","scale":{"domain":[-0.22,3.5],"nice":false,"zero":false},"axis":{"title":"y/m","values":[0,0.5,1,1.5,2,2.5,3,3.5],"format":".1f"}}},
"layer":[
{"data":{"name":"e2"},"mark":{"type":"line","color":"#ff786e","strokeWidth":2.1},"encoding":{"detail":{"field":"i"}}},
{"data":{"name":"w"},"mark":{"type":"rule","color":"black","strokeWidth":3.5},"encoding":{"x2":{"field":"x2"}}},
{"data":{"values":[{"x":-1.5,"y":3.1,"t":"Expt-corr-240-300"}]},"mark":{"type":"text","align":"left","baseline":"alphabetic","font":"DejaVu Sans","fontWeight":"bold","fontSize":13.5,"color":"black"},"encoding":{"text":{"field":"t"}}}
]},
{"width":363,"height":211,
"encoding":{"x":{"field":"x","type":"quantitative","scale":{"domain":[-3.19,3.19],"nice":false,"zero":false},"axis":{"title":"x/m","values":[-3,-2,-1,0,1,2,3],"format":"d"}},"y":{"field":"y","type":"quantitative","scale":{"domain":[-0.21,3.5],"nice":false,"zero":false},"axis":{"title":"y/m","values":[0,0.5,1,1.5,2,2.5,3,3.5],"format":".1f"}}},
"layer":[
{"data":{"name":"v2"},"mark":{"type":"line","color":"#7a6cf6","strokeWidth":2.1},"encoding":{"detail":{"field":"i"}}},
{"data":{"name":"w"},"mark":{"type":"rule","color":"black","strokeWidth":3.5},"encoding":{"x2":{"field":"x2"}}},
{"data":{"values":[{"x":-1.5,"y":3.1,"t":"VID-corr-240-300"}]},"mark":{"type":"text","align":"left","baseline":"alphabetic","font":"DejaVu Sans","fontWeight":"bold","fontSize":13.5,"color":"black"},"encoding":{"text":{"field":"t"}}}
]},
{"width":364,"height":211,
"encoding":{"x":{"field":"x","type":"quantitative","scale":{"domain":[-3.19,3.19],"nice":false,"zero":false},"axis":{"title":"x/m","values":[-3,-2,-1,0,1,2,3],"format":"d"}},"y":{"field":"y","type":"quantitative","scale":{"domain":[-0.21,3.5],"nice":false,"zero":false},"axis":{"title":"y/m","values":[0,0.5,1,1.5,2,2.5,3,3.5],"format":".1f"}}},
"layer":[
{"data":{"name":"d2"},"mark":{"type":"line","color":"#9589d0","strokeWidth":2.1},"encoding":{"detail":{"field":"i"}}},
{"data":{"name":"w"},"mark":{"type":"rule","color":"black","strokeWidth":3.5},"encoding":{"x2":{"field":"x2"}}},
{"data":{"values":[{"x":-1.5,"y":3.1,"t":"DCLN-corr-240-300"}]},"mark":{"type":"text","align":"left","baseline":"alphabetic","font":"DejaVu Sans","fontWeight":"bold","fontSize":13.5,"color":"black"},"encoding":{"text":{"field":"t"}}}
]}
]
}
